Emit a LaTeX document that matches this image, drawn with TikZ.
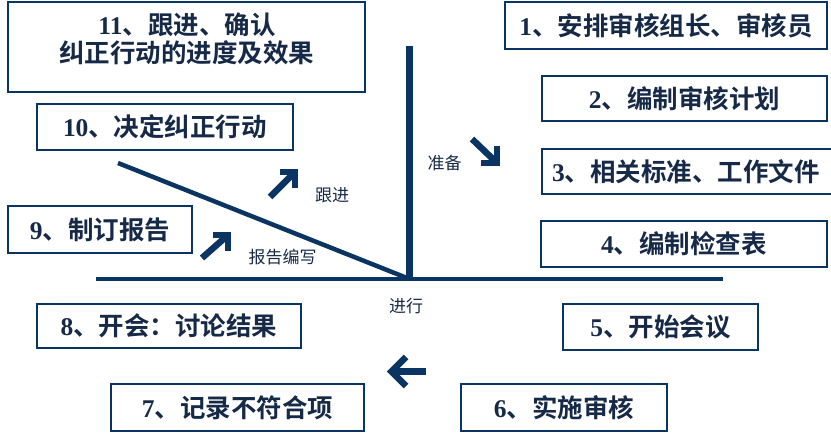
\documentclass[tikz,border=0pt]{standalone}
\usepackage{fontspec}
\setmainfont{Liberation Serif}
\newfontfamily\cjk{Noto Sans CJK SC}[BoldFont={Noto Sans CJK SC Bold}]
\definecolor{navy}{RGB}{10,52,98}
\definecolor{txtnavy}{RGB}{22,42,72}
\newcommand\nb[1]{{\rmfamily\bfseries #1}}
\tikzset{
  box/.style={draw=navy, line width=1.2pt, rectangle, inner sep=0pt},
  boxtxt/.style={font=\cjk\bfseries\fontsize{25.5}{28}\selectfont, text=txtnavy},
  lbl/.style={font=\cjk\fontsize{17}{19}\selectfont, text=txtnavy, inner sep=0pt},
  axis/.style={draw=navy, line width=4pt},
  shaft/.style={draw=navy, line width=6.5pt, line cap=butt},
  head/.style={draw=navy, line width=6.5pt, line cap=butt, miter limit=10}
}
\begin{document}
\begin{tikzpicture}[x=1pt,y=-1pt]
\useasboundingbox (0,0) rectangle (831,433);
% boxes
\node[box, minimum width=357, minimum height=90] (b11) at (186.5,47) {};
\node[boxtxt, align=center, inner sep=0pt] (t11) at (187,39) {\nb{11}、跟进、确认\\纠正行动的进度及效果};
\node[box, boxtxt, minimum width=256, minimum height=46] (b10) at (165,127) {\nb{10}、决定纠正行动};
\node[box, boxtxt, minimum width=184, minimum height=47] (b9) at (100,229.5) {\nb{9}、制订报告};
\node[box, boxtxt, minimum width=264, minimum height=44] (b8) at (169,326) {\nb{8}、开会：讨论结果};
\node[box, boxtxt, minimum width=253, minimum height=47] (b7) at (237.5,407.5) {\nb{7}、记录不符合项};
\node[box, boxtxt, minimum width=206, minimum height=47] (b6) at (564,407.5) {\nb{6}、实施审核};
\node[box, boxtxt, minimum width=195, minimum height=46] (b5) at (660.5,327) {\nb{5}、开始会议};
\node[box, boxtxt, minimum width=286, minimum height=46] (b4) at (684,244) {\nb{4}、编制检查表};
\node[box, minimum width=290, minimum height=45] (b3) at (687,171.5) {};
\node[boxtxt, inner sep=0pt] (t3) at (686,171.5) {\nb{3}、相关标准、工作文件};
\node[box, boxtxt, minimum width=285, minimum height=45] (b2) at (684.5,98.5) {\nb{2}、编制审核计划};
\node[box, boxtxt, minimum width=322, minimum height=47] (b1) at (666,25.5) {\nb{1}、安排审核组长、审核员};
% axes
\coordinate (o) at (409.5,279);
\coordinate (vt) at (409.5,46);
\coordinate (hl) at (96,279);
\coordinate (hr) at (723,279);
\coordinate (dl) at (118,163);
\draw[axis] (hl) -- (hr);
\draw[draw=navy, line width=7pt] (vt) -- ([yshift=-2pt]o);
\draw[axis, line width=4.5pt] (dl) -- (o);
% labels
\node[lbl] (lprep) at (444.5,163) {准备};
\node[lbl] (lfol) at (332,195) {跟进};
\node[lbl] (lrep) at (282.5,257) {报告编写};
\node[lbl] (lrun) at (406,306) {进行};
% arrows
\coordinate (a1t) at (497,163);
\draw[shaft] (472,139) -- (a1t);
\draw[head] (497,146) -- (a1t) -- (481,163);
\coordinate (a2t) at (391.5,371.5);
\draw[shaft] (426,371.5) -- (a2t);
\draw[head] (406,357) -- (a2t) -- (406,386);
\coordinate (a3t) at (295,172);
\draw[shaft] (270,197) -- (a3t);
\draw[head] (280,172) -- (a3t) -- (295,188);
\coordinate (a4t) at (228,235);
\draw[shaft] (202,258) -- (a4t);
\draw[head] (213,235) -- (a4t) -- (228,251);
\end{tikzpicture}
\end{document}
